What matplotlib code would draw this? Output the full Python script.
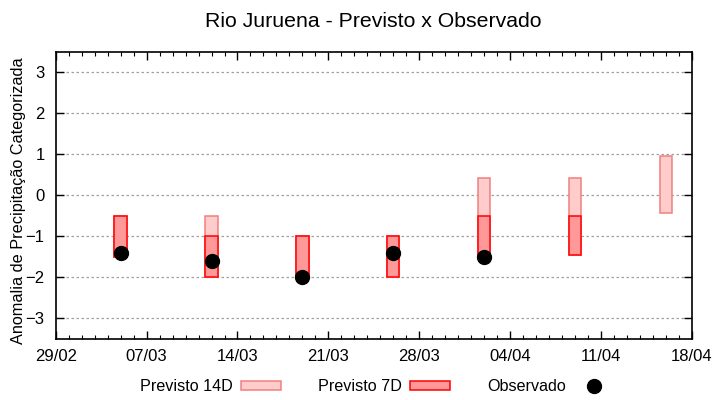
import datetime as dt
import matplotlib
matplotlib.use("Agg")
import matplotlib.pyplot as plt
import matplotlib.dates as mdates
from matplotlib.patches import Patch
from matplotlib.lines import Line2D

plt.rcParams['font.family'] = ['Liberation Sans', 'DejaVu Sans']

# weekly forecast dates
dates = ["2024-03-05", "2024-03-12", "2024-03-19", "2024-03-26",
         "2024-04-02", "2024-04-09", "2024-04-16"]
# 14-day forecast range (bottom, top)
prev14_lo = [-1.5, -2.0, -2.0, -2.0, -1.5, -1.45, -0.44]
prev14_hi = [-0.5, -0.5, -1.0, -1.0, 0.43, 0.43, 0.95]
# 7-day forecast range (bottom, top); None = no forecast
prev7_lo = [-1.5, -2.0, -2.0, -2.0, -1.5, -1.45, None]
prev7_hi = [-0.5, -1.0, -1.0, -1.0, -0.5, -0.5, None]
# observed
obs_dates = ["2024-03-05", "2024-03-12", "2024-03-19", "2024-03-26", "2024-04-02"]
obs_vals = [-1.41, -1.6, -2.0, -1.41, -1.51]

x = [mdates.date2num(dt.datetime.fromisoformat(d)) for d in dates]
xo = [mdates.date2num(dt.datetime.fromisoformat(d)) for d in obs_dates]

fig = plt.figure(figsize=(7.2, 4.0), dpi=100)
ax = fig.add_axes([0.0774, 0.1525, 0.961 - 0.0774, 0.871 - 0.1525])

c14_face, c14_edge = '#ffcccc', '#f08080'
c7_face, c7_edge = '#ff9999', '#ff0000'

for xi, lo, hi in zip(x, prev14_lo, prev14_hi):
    ax.bar(xi, hi - lo, bottom=lo, width=0.95, color=c14_face,
           edgecolor=c14_edge, linewidth=1.1, zorder=2)
for xi, lo, hi in zip(x, prev7_lo, prev7_hi):
    if lo is None:
        continue
    ax.bar(xi, hi - lo, bottom=lo, width=0.95, color=c7_face,
           edgecolor=c7_edge, linewidth=1.1, zorder=3)
ax.plot(xo, obs_vals, 'o', color='black', markersize=10, zorder=4)

ax.set_ylim(-3.5, 3.5)
ax.set_yticks([-3, -2, -1, 0, 1, 2, 3])
ax.set_xlim(mdates.date2num(dt.datetime(2024, 2, 29)),
            mdates.date2num(dt.datetime(2024, 4, 18)))
xt = [mdates.date2num(dt.datetime(2024, 2, 29) + dt.timedelta(days=7 * i)) for i in range(8)]
ax.set_xticks(xt)
ax.xaxis.set_major_formatter(mdates.DateFormatter('%d/%m'))
ax.xaxis.set_minor_locator(mdates.DayLocator())

ax.grid(axis='y', color='#a0a0a0', linestyle=(0, (2, 2)), linewidth=0.9, zorder=0)
ax.set_axisbelow(True)
ax.tick_params(axis='both', which='major', direction='in', length=6, width=1,
               labelsize=12, top=True, right=True, pad=7)
ax.tick_params(axis='y', which='major', pad=8)
ax.tick_params(axis='x', which='minor', direction='in', length=3, width=0.8,
               top=True, bottom=True)
for s in ax.spines.values():
    s.set_linewidth(1.2)

ax.set_ylabel('Anomalia de Precipitação Categorizada', fontsize=11.7, labelpad=-0.5, y=0.48)
fig.suptitle('Rio Juruena - Previsto x Observado', fontsize=15.3, x=0.519, y=0.97)

handles = [Patch(facecolor=c14_face, edgecolor=c14_edge, linewidth=1.1),
           Patch(facecolor=c7_face, edgecolor=c7_edge, linewidth=1.1),
           Line2D([], [], marker='o', color='black', linestyle='none', markersize=10)]
labels = ['Previsto 14D', 'Previsto 7D', 'Observado']
fig.legend(handles, labels, loc='center', bbox_to_anchor=(0.524, 0.033), ncol=3,
           frameon=False, markerfirst=False, fontsize=11.6, handlelength=2.5,
           handleheight=0.4, handletextpad=0.5, columnspacing=2.3)

fig.savefig('out.png', dpi=100)
